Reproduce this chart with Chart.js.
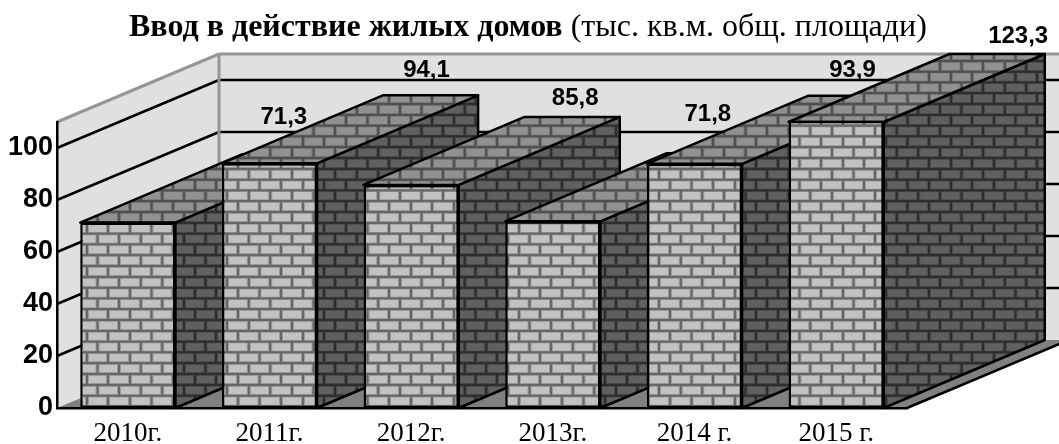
<!DOCTYPE html>
<html lang="ru">
<head>
<meta charset="utf-8">
<title>Ввод в действие жилых домов</title>
<script src="https://cdn.jsdelivr.net/npm/chart.js@4"></script>
<style>
  html, body { margin: 0; background: #fff; }
  canvas { display: block; }
</style>
</head>
<body>
<canvas id="chart" width="1059" height="444"></canvas>
<script>
const categories = ['2010г.', '2011г.', '2012г.', '2013г.', '2014 г.', '2015 г.'];
const values = [71.3, 94.1, 85.8, 71.8, 93.9, 123.3];
const axisMax = 110;

const titleBold = 'Ввод в действие жилых домов';
const titleRest = ' (тыс. кв.м. общ. площади)';

// depth of the fake 3d box
const depthX = 162;
const depthY = 68;
const barDepthX = 161;

// value labels were placed by hand in the original, so each has its own nudge
const labelNudge = [[-6, -37], [-5, -25], [2, -19], [-7, -39], [-4, -25], [20, -18]];

const makeBricks = (brick, edge, mortar) => {
    const tile = document.createElement('canvas');
    tile.width = 65;
    tile.height = 65;
    const c = tile.getContext('2d');
    c.fillStyle = mortar;
    c.fillRect(0, 0, 65, 65);
    const drawBrick = (x, y) => {
        c.fillStyle = edge;
        c.fillRect(x + 3, y + 3, 59, 26.5);
        c.fillStyle = brick;
        c.fillRect(x + 6, y + 5.5, 53, 21.5);
    };
    [[0, 0], [-65, 0], [32.5, 32.5], [-32.5, 32.5]].forEach(p => drawBrick(p[0], p[1]));
    const pattern = c.createPattern(tile, 'repeat');
    pattern.setTransform(new DOMMatrix().translate(0.3, 6.8).scale(21.6 / 65));
    return pattern;
};

const frontBricks = makeBricks('#c2c2c2', '#9a9a9a', '#666666');
const sideBricks = makeBricks('#606060', '#4a4a4a', '#2e2e2e');
const topBricks = makeBricks('#919191', '#747474', '#505050');

const polygon = (ctx, points, fill, stroke, width) => {
    ctx.beginPath();
    points.forEach((p, i) => i ? ctx.lineTo(p[0], p[1]) : ctx.moveTo(p[0], p[1]));
    ctx.closePath();
    if (fill) {
        ctx.fillStyle = fill;
        ctx.fill();
    }
    if (stroke) {
        ctx.strokeStyle = stroke;
        ctx.lineWidth = width;
        ctx.lineJoin = 'round';
        ctx.stroke();
    }
};

const line = (ctx, x1, y1, x2, y2, color, width) => {
    ctx.beginPath();
    ctx.moveTo(x1, y1);
    ctx.lineTo(x2, y2);
    ctx.strokeStyle = color;
    ctx.lineWidth = width;
    ctx.stroke();
};

const box3d = {
    id: 'box3d',
    // walls, floor and gridlines, under the axes
    beforeDraw(chart) {
        const { ctx, chartArea: a, scales: { y } } = chart;
        const bx = a.left + depthX;
        ctx.save();
        polygon(ctx, [[a.left, a.top], [bx, a.top - depthY], [bx, a.bottom - depthY], [a.left, a.bottom]], '#e0e0e0');
        polygon(ctx, [[bx, a.top - depthY], [a.right + depthX, a.top - depthY], [a.right + depthX, a.bottom - depthY], [bx, a.bottom - depthY]], '#e0e0e0');
        polygon(ctx, [[a.left, a.bottom], [bx, a.bottom - depthY], [a.right + depthX, a.bottom - depthY], [a.right, a.bottom]], '#808080');
        y.ticks.forEach(t => {
            if (t.value === 0) return;
            const py = y.getPixelForValue(t.value);
            line(ctx, a.left, py, bx, py - depthY, '#000', 2.5);
            line(ctx, bx, py - depthY, a.right + depthX, py - depthY, '#000', 2.5);
        });
        line(ctx, a.left, a.top, bx, a.top - depthY, '#969696', 3);
        line(ctx, bx, a.top - depthY, a.right + depthX, a.top - depthY, '#969696', 3);
        line(ctx, bx, a.top - depthY, bx, a.bottom - depthY, '#969696', 3);
        line(ctx, a.right, a.bottom, a.right + depthX, a.bottom - depthY, '#000', 2.5);
        ctx.restore();
    },
    // sides and tops go first, the library then paints the front faces over them
    beforeDatasetsDraw(chart) {
        const { ctx, chartArea: a } = chart;
        ctx.save();
        chart.getDatasetMeta(0).data.forEach(bar => {
            const left = bar.x - bar.width / 2;
            const right = bar.x + bar.width / 2;
            const top = Math.max(bar.y, a.top);
            polygon(ctx, [[right, top], [right + barDepthX, top - depthY], [right + barDepthX, bar.base - depthY], [right, bar.base]], sideBricks, '#000', 2.5);
            polygon(ctx, [[left, top], [right, top], [right + barDepthX, top - depthY], [left + barDepthX, top - depthY]], topBricks, '#000', 2.5);
        });
        ctx.restore();
    },
    afterDatasetsDraw(chart) {
        const { ctx, chartArea: a } = chart;
        ctx.save();
        ctx.fillStyle = '#000';

        // the 2015 bar is cut by the axis maximum, close its front face
        chart.getDatasetMeta(0).data.forEach((bar, i) => {
            const left = bar.x - bar.width / 2;
            const right = bar.x + bar.width / 2;
            const top = Math.max(bar.y, a.top);
            if (bar.y < a.top) line(ctx, left, a.top, right, a.top, '#000', 2.5);

            ctx.font = 'bold 24px "Liberation Sans"';
            ctx.textAlign = 'center';
            ctx.textBaseline = 'middle';
            ctx.fillText(values[i].toFixed(1).replace('.', ','), bar.x + depthX + labelNudge[i][0], top - depthY + labelNudge[i][1]);
        });

        ctx.textAlign = 'left';
        ctx.textBaseline = 'alphabetic';
        ctx.font = 'bold 32px "Liberation Serif"';
        ctx.fillText(titleBold, 129, 36);
        const boldWidth = ctx.measureText(titleBold).width;
        ctx.font = '32px "Liberation Serif"';
        ctx.fillText(titleRest, 129 + boldWidth, 36);
        ctx.restore();
    }
};

new Chart(document.getElementById('chart'), {
    type: 'bar',
    data: {
        labels: categories,
        datasets: [{
            data: values,
            backgroundColor: frontBricks,
            borderColor: '#000',
            borderWidth: 2.5,
            borderSkipped: false,
            barPercentage: 0.672,
            categoryPercentage: 1
        }]
    },
    options: {
        responsive: false,
        animation: false,
        events: [],
        layout: {
            autoPadding: false,
            padding: { top: 122, right: 152 }
        },
        plugins: {
            legend: { display: false },
            tooltip: { enabled: false }
        },
        scales: {
            x: {
                afterFit: scale => { scale.height = 36; },
                grid: { display: false, drawTicks: false },
                border: { color: '#000', width: 2.5 },
                ticks: {
                    maxRotation: 0,
                    autoSkip: false,
                    padding: 10,
                    color: '#000',
                    font: { family: '"Liberation Serif"', size: 27 }
                }
            },
            y: {
                min: 0,
                max: axisMax,
                afterFit: scale => { scale.width = 57; },
                grid: { display: false, drawTicks: false },
                border: { color: '#000', width: 2.5 },
                ticks: {
                    stepSize: 20,
                    includeBounds: false,
                    padding: 4,
                    color: '#000',
                    font: { family: '"Liberation Sans"', size: 27, weight: 'bold' }
                }
            }
        }
    },
    plugins: [box3d]
});
</script>
</body>
</html>
